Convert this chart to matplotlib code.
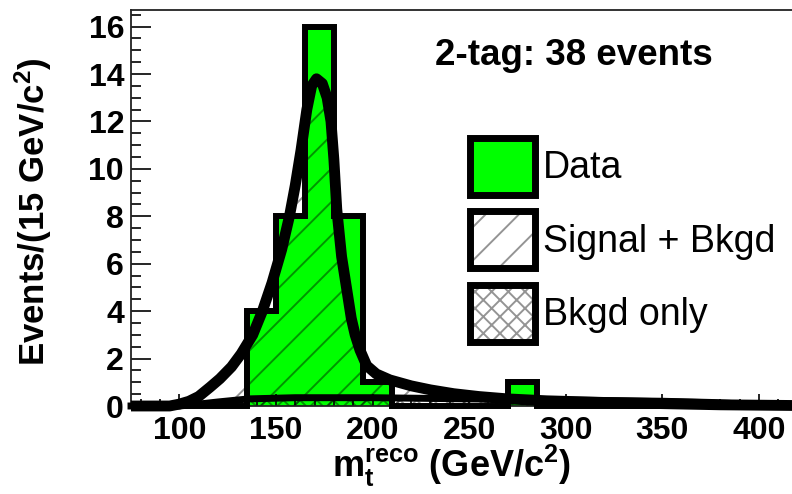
import matplotlib
matplotlib.use("Agg")
import matplotlib.pyplot as plt
from matplotlib.patches import Patch
from matplotlib.legend_handler import HandlerTuple
from matplotlib.ticker import MultipleLocator

plt.rcParams['font.family'] = ['Liberation Sans', 'DejaVu Sans']
plt.rcParams['mathtext.fontset'] = 'custom'
plt.rcParams['mathtext.rm'] = 'Liberation Sans'
plt.rcParams['mathtext.bf'] = 'Liberation Sans:bold'
plt.rcParams['mathtext.it'] = 'Liberation Sans:italic'
plt.rcParams['hatch.linewidth'] = 1.4

# Reconstructed top mass, 15 GeV/c^2 bins
bin_edges = [75, 90, 105, 120, 135, 150, 165, 180, 195, 210, 225, 240,
             255, 270, 285, 300, 315, 330, 345, 360, 375, 390, 405, 420]
data_counts = [0, 0, 0, 0, 4, 8, 16, 8, 1, 0, 0, 0,
               0, 1, 0, 0, 0, 0, 0, 0, 0, 0, 0]

# Signal + background template
sb_mass = [75, 95, 100, 105, 110, 116, 121, 127, 132, 138, 143, 148, 153,
           157, 160, 163, 166, 168.5, 171, 174, 176.5, 178.5, 180, 181.5,
           184, 186.5, 189, 191, 193.5, 197, 202, 209, 220, 230, 242, 255,
           270, 290, 320, 350, 380, 420]
sb_events = [0, 0, 0.08, 0.2, 0.4, 0.8, 1.15, 1.65, 2.2, 3.0, 4.0, 5.2, 6.6,
             8.0, 9.3, 10.8, 12.5, 13.5, 13.8, 13.6, 13.0, 12.0, 10.4, 8.3,
             6.3, 5.0, 3.7, 3.0, 2.36, 1.7, 1.35, 1.1, 0.85, 0.68, 0.52, 0.4,
             0.3, 0.22, 0.15, 0.1, 0.05, 0.02]

# Background-only template
bk_mass = [75, 100, 110, 120, 136, 160, 200, 250, 300, 350, 375, 400, 420]
bk_events = [0, 0, 0.08, 0.17, 0.3, 0.35, 0.35, 0.3, 0.25, 0.2, 0.15, 0.05, 0.03]

labels = ['Data', 'Signal + Bkgd', 'Bkgd only']
title_text = '2-tag: 38 events'

green = '#00ff00'
hatch_col = (0, 0, 0, 0.42)

W, H = 792, 494
fig = plt.figure(figsize=(W / 100, H / 100), dpi=100)
ax = fig.add_axes([131 / W, (H - 406) / H, 666.6 / W, 396 / H])

# data histogram fill
ax.stairs(data_counts, bin_edges, fill=True, color=green, lw=0, zorder=1)
# hatched signal + background area
ax.fill_between(sb_mass, 0, sb_events, facecolor='none', edgecolor=hatch_col,
                hatch='/', linewidth=0, zorder=2)
# cross-hatched background area
ax.fill_between(bk_mass, 0, bk_events, facecolor='none', edgecolor=hatch_col,
                hatch='xx', linewidth=0, zorder=2.2)
# data histogram outline
ax.stairs(data_counts, bin_edges, fill=False, color='black', lw=4.3,
          baseline=0, zorder=3, clip_on=False)
ax.plot(bk_mass, bk_events, color='black', lw=5, zorder=4, clip_on=False,
        solid_joinstyle='round')
ax.plot(sb_mass, sb_events, color='black', lw=7.8, zorder=5, clip_on=False,
        solid_joinstyle='round', solid_capstyle='butt')

ax.set_xlim(75, 420)
ax.set_ylim(0, 16.7)
ax.xaxis.set_major_locator(MultipleLocator(50))
ax.xaxis.set_minor_locator(MultipleLocator(10))
ax.yaxis.set_major_locator(MultipleLocator(2))
ax.yaxis.set_minor_locator(MultipleLocator(0.5))

ax.tick_params(axis='both', which='both', direction='in', width=1.2,
               color='black')
ax.tick_params(axis='x', which='major', length=9, pad=7, labelsize=23)
ax.tick_params(axis='x', which='minor', length=5)
ax.tick_params(axis='y', which='major', length=14.5, pad=5, labelsize=23)
ax.tick_params(axis='y', which='minor', length=7.2)
for lab in ax.get_xticklabels() + ax.get_yticklabels():
    lab.set_fontweight('bold')

for side in ['left', 'top', 'bottom', 'right']:
    ax.spines[side].set_linewidth(1.3)
    ax.spines[side].set_color('#222222')

ax.set_xlabel(r'$\mathbf{m}_{\mathbf{t}}^{\mathbf{reco}}$ (GeV/c$^{\mathbf{2}}$)',
              fontsize=26, fontweight='bold')
ax.xaxis.set_label_coords((452 - 131) / 666.6, (406 - 466) / 396)
ax.xaxis.label.set_verticalalignment('center')

ax.set_ylabel(r'Events/(15 GeV/c$^{\mathbf{2}}$)', fontsize=25,
              fontweight='bold')
ax.yaxis.set_label_coords((33 - 131) / 666.6, (406 - 212) / 396)
ax.yaxis.label.set_verticalalignment('center')

fig.text(435 / W, 1 - 65 / H, title_text, fontsize=26.5, fontweight='bold',
         ha='left', va='baseline')

h_data = Patch(facecolor=green, edgecolor='black', lw=5, joinstyle='round')
h_sb = (Patch(facecolor='white', edgecolor=hatch_col, lw=0, hatch='/'),
        Patch(facecolor='none', edgecolor='black', lw=5, joinstyle='round'))
h_bk = (Patch(facecolor='white', edgecolor=hatch_col, lw=0, hatch='xx'),
        Patch(facecolor='none', edgecolor='black', lw=5, joinstyle='round'))

fig.legend([h_data, h_sb, h_bk], labels,
           handler_map={tuple: HandlerTuple(ndivide=1, pad=0)},
           loc='upper left', bbox_to_anchor=(470 / W, 1 - 138 / H),
           bbox_transform=fig.transFigure, frameon=False, borderpad=0,
           borderaxespad=0, handlelength=1.73, handleheight=1.96,
           handletextpad=0.22, labelspacing=0.44, fontsize=27)

fig.savefig('out.png', dpi=100, facecolor='white')
